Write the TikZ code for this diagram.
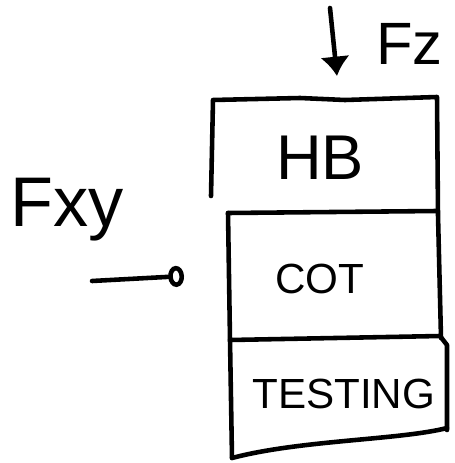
\documentclass[tikz,border=0pt]{standalone}
\usepackage{fontspec}
\setmainfont{Liberation Sans}
\usetikzlibrary{arrows.meta}

\begin{document}
\begin{tikzpicture}[x=0.02cm,y=-0.02cm,>={Latex[length=11pt,width=17pt]},
  pen/.style={line width=2.6pt,line cap=round,line join=round},
  lbl/.style={inner sep=0pt,anchor=west}]
\useasboundingbox (0,0) rectangle (455,463);
% stacked layers
\draw[pen] (211,196) -- (213,100) -- (300,98) -- (345,100) -- (437,97) -- (438,215) -- (441,338);
\draw[pen] (228,213) -- (437,211);
\draw[pen] (228,213) -- (230,340) -- (232,458);
\draw[pen] (230,340) -- (440,336) -- (447,345) -- (447,430);
\draw[pen] (232,458) .. controls (300,440) and (400,440) .. (447,428);
% layer names
\node[font=\fontsize{36}{36}\selectfont] (hb) at (320,158) {HB};
\node[font=\fontsize{24}{24}\selectfont] (cot) at (320,279) {COT};
\node[lbl,font=\fontsize{24}{24}\selectfont] (testing) at (252,394) {TESTING};
% loads
\node[lbl,font=\fontsize{40}{40}\selectfont] (fxy) at (10,210) {Fxy};
\node[lbl,font=\fontsize{34}{34}\selectfont] (fz) at (376,44) {Fz};
\coordinate (fztop) at (330,8);
\coordinate (fzend) at (337,76);
\coordinate (fxyl) at (92,281);
\coordinate (fxyr) at (184,276);
\draw[pen,->] (fztop) -- (fzend);
\draw[pen,-{Circle[open,length=9pt,width=12pt]}] (fxyl) -- (fxyr);
\end{tikzpicture}
\end{document}
